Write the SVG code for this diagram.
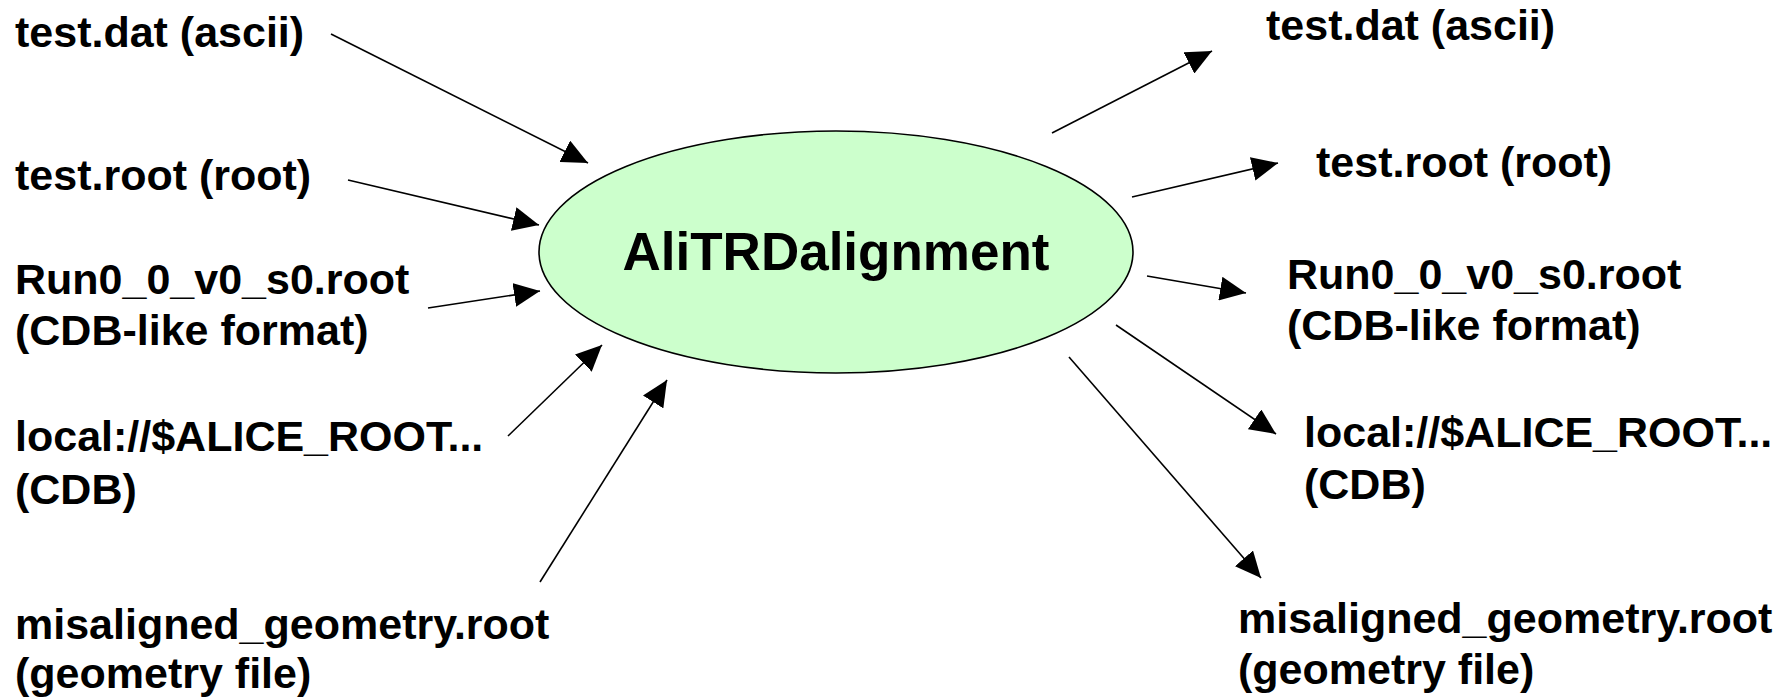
<svg xmlns="http://www.w3.org/2000/svg" width="1789" height="697" viewBox="0 0 1789 697">
<style>
text{font-family:"Liberation Sans",Arial,sans-serif;font-weight:bold;fill:#000;}
.lbl{font-size:43px;}
.ctr{font-size:53px;}
.conn line{stroke:#000;stroke-width:1.6;marker-end:url(#ah);}
</style>
<defs>
<marker id="ah" markerWidth="26" markerHeight="24" refX="26" refY="12" orient="auto" markerUnits="userSpaceOnUse"><path d="M0,0 L26,12 L0,24 z" fill="#000"/></marker>
</defs>
<rect width="1789" height="697" fill="#fff"/>
<g id="center">
<ellipse cx="836" cy="252" rx="297" ry="121" fill="#CCFFCC" stroke="#000" stroke-width="1.6"/>
<text class="ctr" x="836" y="270" text-anchor="middle">AliTRDalignment</text>
</g>
<g id="in1"><text class="lbl" x="15" y="47">test.dat (ascii)</text></g>
<g id="in2"><text class="lbl" x="15" y="190">test.root (root)</text></g>
<g id="in3"><text class="lbl" x="15" y="294">Run0_0_v0_s0.root</text><text class="lbl" x="15" y="345">(CDB-like format)</text></g>
<g id="in4"><text class="lbl" x="15" y="451">local://$ALICE_ROOT...</text><text class="lbl" x="15" y="504">(CDB)</text></g>
<g id="in5"><text class="lbl" x="15" y="639">misaligned_geometry.root</text><text class="lbl" x="15" y="688">(geometry file)</text></g>
<g id="out1"><text class="lbl" x="1266" y="40">test.dat (ascii)</text></g>
<g id="out2"><text class="lbl" x="1316" y="177">test.root (root)</text></g>
<g id="out3"><text class="lbl" x="1287" y="289">Run0_0_v0_s0.root</text><text class="lbl" x="1287" y="340">(CDB-like format)</text></g>
<g id="out4"><text class="lbl" x="1304" y="447">local://$ALICE_ROOT...</text><text class="lbl" x="1304" y="499">(CDB)</text></g>
<g id="out5"><text class="lbl" x="1238" y="633">misaligned_geometry.root</text><text class="lbl" x="1238" y="684">(geometry file)</text></g>
<g id="connectors" class="conn">
<line x1="331" y1="34" x2="588" y2="163"/>
<line x1="348" y1="180" x2="539" y2="225"/>
<line x1="428" y1="308" x2="540" y2="291"/>
<line x1="508" y1="436" x2="602" y2="345"/>
<line x1="540" y1="582" x2="667" y2="380"/>
<line x1="1052" y1="133" x2="1212" y2="51"/>
<line x1="1132" y1="197" x2="1278" y2="163"/>
<line x1="1147" y1="276" x2="1246" y2="293"/>
<line x1="1116" y1="325" x2="1276" y2="434"/>
<line x1="1069" y1="357" x2="1261" y2="578"/>
</g>
</svg>
